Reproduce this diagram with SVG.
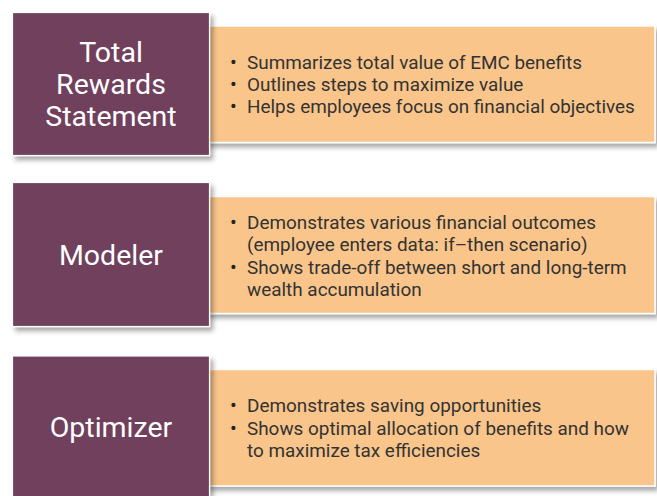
<svg xmlns="http://www.w3.org/2000/svg" width="657" height="496" viewBox="0 0 657 496">
<defs>
<filter id="sh" x="-10%" y="-10%" width="130%" height="130%">
<feDropShadow dx="3" dy="4" stdDeviation="2.5" flood-color="#000" flood-opacity="0.35"/>
</filter>
<style>
.det{fill:#f9c58a;stroke:#fff;stroke-width:1.5;filter:url(#sh)}
.ttl{fill:#71405c;stroke:#fff;stroke-width:1.2;filter:url(#sh)}
.tt{font-family:Roboto,"Open Sans","Liberation Sans",sans-serif;font-size:28.5px;fill:#fff;text-anchor:middle}
.bt{font-family:Roboto,"Open Sans","Liberation Sans",sans-serif;font-size:18.9px;fill:#333}
.bu{font-size:20px;fill:#222}
</style>
</defs>
<rect width="657" height="496" fill="#fff"/>
<g id="node-total-rewards">
<rect class="det" x="205" y="26" width="450" height="116.5"/>
<rect class="ttl" x="12.5" y="12.5" width="197" height="143"/>
<text class="tt"><tspan x="111" y="61.5">Total</tspan><tspan x="111" y="93.5">Rewards</tspan><tspan x="111" y="126">Statement</tspan></text>
<text class="bt"><tspan class="bu" x="230" y="69">•</tspan><tspan x="247">Summarizes total value of EMC benefits</tspan><tspan class="bu" x="230" y="91">•</tspan><tspan x="247">Outlines steps to maximize value</tspan><tspan class="bu" x="230" y="113">•</tspan><tspan x="247">Helps employees focus on financial objectives</tspan></text>
</g>
<g id="node-modeler">
<rect class="det" x="205" y="196.5" width="450" height="117"/>
<rect class="ttl" x="12.5" y="182.5" width="197" height="144"/>
<text class="tt"><tspan x="111" y="265">Modeler</tspan></text>
<text class="bt"><tspan class="bu" x="230" y="228.5">•</tspan><tspan x="247">Demonstrates various financial outcomes</tspan><tspan x="247" y="251">(employee enters data: if–then scenario)</tspan><tspan class="bu" x="230" y="273.5">•</tspan><tspan x="247">Shows trade-off between short and long-term</tspan><tspan x="247" y="296">wealth accumulation</tspan></text>
</g>
<g id="node-optimizer">
<rect class="det" x="205" y="369.5" width="450" height="116.5"/>
<rect class="ttl" x="12.5" y="356" width="197" height="160"/>
<text class="tt"><tspan x="111" y="437">Optimizer</tspan></text>
<text class="bt"><tspan class="bu" x="230" y="412">•</tspan><tspan x="247">Demonstrates saving opportunities</tspan><tspan class="bu" x="230" y="434.5">•</tspan><tspan x="247">Shows optimal allocation of benefits and how</tspan><tspan x="247" y="457">to maximize tax efficiencies</tspan></text>
</g>
<g id="connectors"/>
</svg>
